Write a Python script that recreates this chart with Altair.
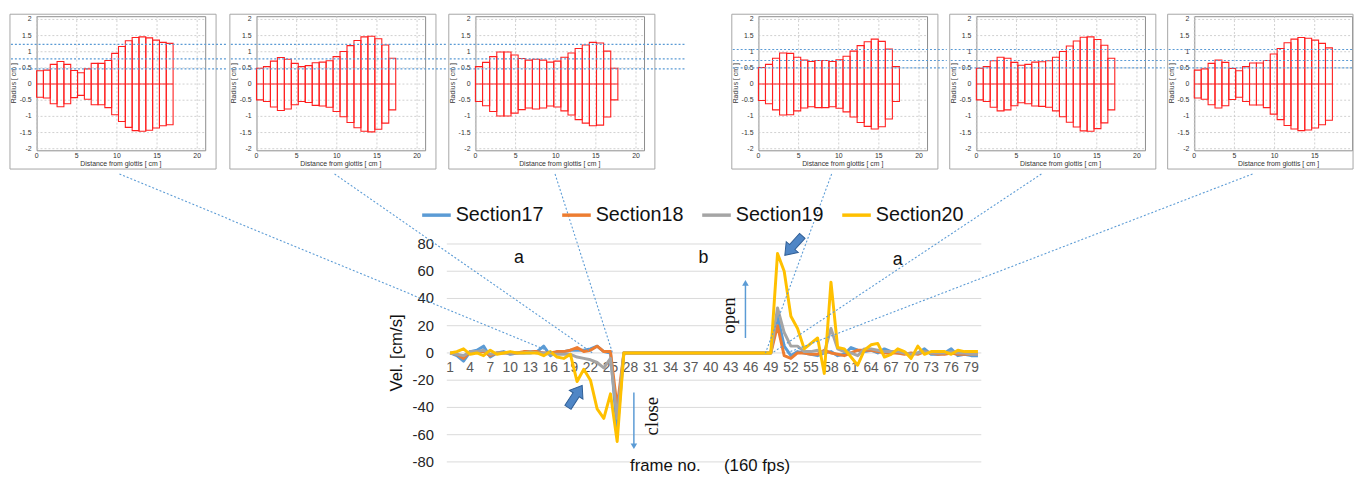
import altair as alt
import pandas as pd

FONT = "Liberation Sans"
SERIF = "Liberation Serif"

# ---------------- main chart data ----------------
frames = list(range(1, 81))
section17 = [0, -2, -6, 1, 2, 5, -3, 0, 1, -1, 0, 0, 0, 1, 5, -2, 1, 1, 2, 2,
             2, 3, 5, 1, 0, -57, 0, 0, 0, 0, 0, 0, 0, 0, 0, 0, 0, 0, 0, 0,
             0, 0, 0, 0, 0, 0, 0, 0, 0, 27, 5, -2, 1, 0, -1, -2, 0, 1, -2, -1,
             4, 2, 1, 2, 0, 3, 1, 0, 0, -1, 0, 3, -1, -1, 0, 3, -2, -1, -2, -2]
section18 = [0, -1, -4, 1, 1, 1, -2, 0, 0, 0, 0, 1, 1, 1, 0, 0, 1, 1, 2, 4,
             1, 2, 5, 1, 1, -40, 0, 0, 0, 0, 0, 0, 0, 0, 0, 0, 0, 0, 0, 0,
             0, 0, 0, 0, 0, 0, 0, 0, 0, 20, -2, -4, 0, 0, -1, -1, 2, 0, -1, -2,
             0, 2, 2, 2, 1, 0, 0, 0, -1, 0, -1, 1, 0, -1, -1, 0, -1, -1, -1, -1]
section19 = [0, -1, -2, 1, 1, 2, -1, 0, 0, 0, 0, 0, 1, 0, 0, -1, -1, -1, -1, -3,
             -4, -5, -7, -11, -4, -48, 0, 0, 0, 0, 0, 0, 0, 0, 0, 0, 0, 0, 0, 0,
             0, 0, 0, 0, 0, 0, 0, 0, 0, 33, 15, 5, 5, 1, 1, 2, 0, 18, 3, 1,
             0, -2, 3, 3, 2, 1, 1, 1, 0, -1, 0, 1, 0, 0, 0, 1, 0, 0, -1, -1]
section20 = [0, 1, 3, -1, 0, -2, 2, -1, 0, 1, 0, 0, 0, 0, -2, 1, -3, -4, -1, -21,
             -12, -20, -41, -48, -30, -65, 0, 0, 0, 0, 0, 0, 0, 0, 0, 0, 0, 0, 0, 0,
             0, 0, 0, 0, 0, 0, 0, 0, 0, 73, 60, 27, 18, 3, 7, 11, -15, 52, 4, 3,
             -3, -9, 2, 6, 7, -3, -1, 3, 1, -4, 5, -1, 1, 1, 1, -1, 2, 1, 1, 1]
series_names = ["Section17", "Section18", "Section19", "Section20"]
series_colors = ["#5B9BD5", "#ED7D31", "#A5A5A5", "#FFC000"]
x_tick_labels = [1, 4, 7, 10, 13, 16, 19, 22, 25, 28, 31, 34, 37, 40, 43, 46, 49,
                 52, 55, 58, 61, 64, 67, 70, 73, 76, 79]
y_tick_labels = [-80, -60, -40, -20, 0, 20, 40, 60, 80]
y_title = "Vel. [cm/s]"

# ---------------- inset data (tube radii, 20 sections) ----------------
inset_radii = [
    [0.41, 0.43, 0.61, 0.70, 0.61, 0.42, 0.35, 0.47, 0.64, 0.64,
     0.73, 0.95, 1.16, 1.34, 1.44, 1.46, 1.43, 1.36, 1.29, 1.26],
    [0.49, 0.54, 0.71, 0.82, 0.77, 0.64, 0.54, 0.57, 0.66, 0.68,
     0.72, 0.85, 1.01, 1.19, 1.35, 1.46, 1.48, 1.40, 1.21, 0.80],
    [0.54, 0.67, 0.85, 0.99, 0.99, 0.90, 0.79, 0.74, 0.77, 0.74,
     0.68, 0.71, 0.83, 0.96, 1.10, 1.21, 1.29, 1.27, 1.02, 0.49],
    [0.51, 0.61, 0.80, 0.96, 0.95, 0.83, 0.74, 0.70, 0.73, 0.73,
     0.70, 0.75, 0.86, 1.02, 1.19, 1.31, 1.39, 1.32, 1.08, 0.54],
    [0.49, 0.54, 0.72, 0.83, 0.80, 0.67, 0.58, 0.61, 0.68, 0.69,
     0.72, 0.83, 1.01, 1.18, 1.33, 1.45, 1.46, 1.38, 1.20, 0.80],
    [0.43, 0.47, 0.64, 0.74, 0.67, 0.48, 0.41, 0.54, 0.65, 0.65,
     0.73, 0.93, 1.10, 1.28, 1.39, 1.44, 1.42, 1.36, 1.26, 1.12],
]
inset_section_length = [0.85, 0.867, 0.887, 0.878, 0.862, 0.86]
inset_x_ticks = [0, 5, 10, 15, 20]
inset_y_ticks = [-2, -1.5, -1, -0.5, 0, 0.5, 1, 1.5, 2]
inset_x_title = "Distance from glottis [ cm ]"
inset_y_title = "Radius [ cm ]"
guide_radii_left = [1.23, 0.78, 0.47]
guide_radii_right = [1.07, 0.73, 0.50]

# ---------------- annotations (in frame / velocity units) ----------------
letter_text = ["a", "b", "a"]
letter_frame = [11.3, 38.9, 68.0]
letter_vel = [69.6, 69.6, 68.1]
rot_text = ["open", "close"]
rot_frame = [42.8, 31.2]
rot_vel = [27.5, -46.4]
thin_arrow_frame = [45.2, 28.5]
thin_arrow_from = [11, -29]
thin_arrow_to = [50, -67]
up_head = {"frame": [45.2], "vel": [51.5]}
down_head = {"frame": [28.5], "vel": [-68.5]}
block_up = {"frame": [19.7], "vel": [-31.9]}
block_down = {"frame": [52.4], "vel": [78.8]}
conn_from_frame = [-48.5, -16.3, 16.7, 58.1, 89.5, 121.1]
conn_from_vel = [131.4, 131.4, 131.4, 131.4, 131.4, 131.4]
conn_to_frame = [16.4, 22.3, 25.3, 48.2, 49.2, 51.4]
conn_to_vel = [0, 0, 0, 0, 0, 0]
x_title = "frame no.\u00a0\u00a0\u00a0\u00a0 (160 fps)"
x_title_frame = [39.9]
x_title_vel = [-82.8]

# ---------------- layout constants ----------------
INSET_W = 171
INSET_H = 136
MAIN_W = 542
MAIN_H = 221
one = pd.DataFrame({"k": [0]})
noframe = alt.ViewBackground(stroke="transparent")


def fmt(v):
    return f"{v:g}"


def make_inset(idx, width, guides, box_right=11, gap_after=10):
    radii = inset_radii[idx]
    seg = inset_section_length[idx]
    n = len(radii)
    xmax = 21 * width / INSET_W
    xsc = alt.Scale(domain=[0, xmax], nice=False, zero=False)
    ysc = alt.Scale(domain=[-2.05, 2.1], nice=False, zero=False)
    X = alt.X("x0:Q", scale=xsc, axis=None)
    Y = alt.Y("lo:Q", scale=ysc, axis=None)
    xt = [v for v in inset_x_ticks if v <= xmax]

    vgrid = alt.Chart(pd.DataFrame({"x0": xt})).mark_rule(
        color="#c4c4c4", strokeDash=[2, 2], strokeWidth=0.8).encode(
        x=X, y=alt.value(0), y2=alt.value(INSET_H))
    hgrid = alt.Chart(pd.DataFrame({"lo": inset_y_ticks})).mark_rule(
        color="#c4c4c4", strokeDash=[2, 2], strokeWidth=0.8).encode(
        y=Y, x=alt.value(0), x2=alt.value(width))
    xlab = alt.Chart(pd.DataFrame({"x0": xt, "t": [fmt(v) for v in xt]})).mark_text(
        font=FONT, fontSize=7, color="#333", baseline="top").encode(
        x=X, y=alt.value(INSET_H + 2), text="t:N")
    ylab = alt.Chart(pd.DataFrame({"lo": inset_y_ticks, "t": [fmt(v) for v in inset_y_ticks]})).mark_text(
        font=FONT, fontSize=7, color="#333", align="right", baseline="middle").encode(
        y=Y, x=alt.value(-5), text="t:N")
    xtit = alt.Chart(pd.DataFrame({"t": [inset_x_title]})).mark_text(
        font=FONT, fontSize=7, color="#333", baseline="middle").encode(
        x=alt.value(INSET_W / 2), y=alt.value(INSET_H + 13.5), text="t:N")
    ytit = alt.Chart(pd.DataFrame({"t": [inset_y_title]})).mark_text(
        font=FONT, fontSize=7, color="#333", baseline="middle", angle=270).encode(
        x=alt.value(-23), y=alt.value(INSET_H / 2), text="t:N")

    bars_df = pd.DataFrame({
        "x0": [i * seg for i in range(n)],
        "x1": [(i + 1) * seg for i in range(n)],
        "lo": [-r for r in radii],
        "hi": radii,
    })
    bars = alt.Chart(bars_df).mark_rect(fillOpacity=0, stroke="#ff1f1f", strokeWidth=1.1).encode(
        x=X, x2="x1", y=Y, y2="hi")
    box = alt.Chart(one).mark_rect(fillOpacity=0, stroke="#a6a6a6", strokeWidth=1).encode(
        x=alt.value(-27), x2=alt.value(width + box_right),
        y=alt.value(-2), y2=alt.value(INSET_H + 19))
    zero_df = pd.DataFrame({"x0": [0], "x1": [n * seg], "lo": [0]})
    zero = alt.Chart(zero_df).mark_rule(color="#ff1f1f", strokeWidth=1.1).encode(
        x=X, x2="x1", y=Y)
    gdf = pd.DataFrame({"lo": guides})
    g = alt.Chart(gdf).mark_rule(color="#5B9BD5", strokeDash=[2, 2], strokeWidth=1.2).encode(
        x=alt.value(-26), x2=alt.value(width + box_right + gap_after), y=Y)
    return alt.layer(vgrid, hgrid, xlab, ylab, xtit, ytit, bars, box, zero, g).properties(
        width=width, height=INSET_H)


i1 = make_inset(0, INSET_W, guide_radii_left, gap_after=11)
i2 = make_inset(1, INSET_W, guide_radii_left, gap_after=10)
i3 = make_inset(2, INSET_W, guide_radii_left, gap_after=31)
i4 = make_inset(3, INSET_W, guide_radii_right, gap_after=9)
i5 = make_inset(4, INSET_W, guide_radii_right, gap_after=9)
i6 = make_inset(5, 160, guide_radii_right, box_right=1, gap_after=1)

gap = alt.Chart(one).mark_point(opacity=0, size=1).properties(
    width=42, height=INSET_H, view=noframe)

top_row = alt.hconcat(i1, i2, i3, gap, i4, i5, i6, spacing=0)

# ---------------- main chart ----------------
main_df = pd.DataFrame({
    "frame": frames * 4,
    "vel": section17 + section18 + section19 + section20,
    "series": [n for n in series_names for _ in frames],
})
xsc = alt.Scale(domain=[0.5, 80.5], nice=False, zero=False)
ysc = alt.Scale(domain=[-80, 80], nice=False, zero=False)
XN = alt.X("frame:Q", scale=xsc, axis=None)
YN = alt.Y("vel:Q", scale=ysc, axis=None)

ygrid = alt.Chart(pd.DataFrame({"vel": y_tick_labels})).mark_rule(
    color="#d9d9d9", strokeWidth=1).encode(y=YN, x=alt.value(0), x2=alt.value(MAIN_W))
ylab = alt.Chart(pd.DataFrame({"vel": y_tick_labels, "t": [fmt(v) for v in y_tick_labels]})).mark_text(
    font=FONT, fontSize=15, color="#262626", align="right", baseline="middle").encode(
    y=YN, x=alt.value(-13), text="t:N")
xlab = alt.Chart(pd.DataFrame({"frame": x_tick_labels, "t": [fmt(v) for v in x_tick_labels]})).mark_text(
    font=FONT, fontSize=14, color="#595959", baseline="middle").encode(
    x=XN, y=alt.value(MAIN_H / 2 + 15.5), text="t:N")
ytit = alt.Chart(pd.DataFrame({"t": [y_title]})).mark_text(
    font=FONT, fontSize=17, color="#111", angle=270, baseline="middle").encode(
    x=alt.value(-50), y=alt.value(MAIN_H / 2), text="t:N")

lines = alt.Chart(main_df).mark_line(strokeWidth=3, strokeJoin="round").encode(
    x=XN, y=YN,
    color=alt.Color("series:N", scale=alt.Scale(domain=series_names, range=series_colors),
                    legend=alt.Legend(orient="none", legendX=-27, legendY=-46,
                                      direction="horizontal", title=None,
                                      symbolType="stroke", symbolSize=841,
                                      symbolStrokeWidth=3.5, labelFontSize=20,
                                      labelFont=FONT, labelColor="#111",
                                      columnPadding=12, labelOffset=3, padding=0,
                                      labelLimit=300)),
)

conn_df = pd.DataFrame({"frame": conn_from_frame, "vel": conn_from_vel,
                        "frame2": conn_to_frame, "vel2": conn_to_vel})
connectors = alt.Chart(conn_df).mark_rule(color="#5B9BD5", strokeDash=[2, 2], strokeWidth=1.1).encode(
    x=XN, x2="frame2", y=YN, y2="vel2")

letters_df = pd.DataFrame({"t": letter_text, "frame": letter_frame, "vel": letter_vel})
letters = alt.Chart(letters_df).mark_text(font=FONT, fontSize=18, color="#111").encode(
    x=XN, y=YN, text="t:N")

rot_df = pd.DataFrame({"t": rot_text, "frame": rot_frame, "vel": rot_vel})
rot = alt.Chart(rot_df).mark_text(font=SERIF, fontSize=19, color="#111", angle=270).encode(
    x=XN, y=YN, text="t:N")

thin_df = pd.DataFrame({"frame": thin_arrow_frame, "vel": thin_arrow_from, "vel2": thin_arrow_to})
thin = alt.Chart(thin_df).mark_rule(color="#5B9BD5", strokeWidth=1.5).encode(x=XN, y=YN, y2="vel2")
head_up = alt.Chart(pd.DataFrame(up_head)).mark_point(
    shape="triangle-up", filled=True, color="#5B9BD5", size=45, opacity=1).encode(x=XN, y=YN)
head_down = alt.Chart(pd.DataFrame(down_head)).mark_point(
    shape="triangle-down", filled=True, color="#5B9BD5", size=45, opacity=1).encode(x=XN, y=YN)

ARROW = "M -1 -0.28 L 0.15 -0.28 L 0.15 -0.62 L 1 0 L 0.15 0.62 L 0.15 0.28 L -1 0.28 Z"
blk_style = dict(shape=ARROW, filled=True, fill="#4F86C6", stroke="#2F5E96",
                 strokeWidth=1, size=700, opacity=1)
blk1 = alt.Chart(pd.DataFrame(block_up)).mark_point(angle=303, **blk_style).encode(x=XN, y=YN)
blk2 = alt.Chart(pd.DataFrame(block_down)).mark_point(angle=132, **blk_style).encode(x=XN, y=YN)

xt_df = pd.DataFrame({"t": [x_title], "frame": x_title_frame, "vel": x_title_vel})
xtitle = alt.Chart(xt_df).mark_text(font=FONT, fontSize=17, color="#111").encode(
    x=XN, y=YN, text="t:N")

main = alt.layer(ygrid, ylab, xlab, ytit, lines, connectors, letters, rot, thin, head_up,
                 head_down, blk1, blk2, xtitle).properties(
    width=MAIN_W, height=MAIN_H, view=noframe)

spacer = alt.Chart(one).mark_point(opacity=0, size=1).properties(
    width=1, height=MAIN_H, view=noframe)
bottom_row = alt.hconcat(spacer, main, spacing=80).resolve_scale(
    color="independent").resolve_legend(color="independent")

chart = alt.vconcat(top_row, bottom_row, spacing=2).resolve_scale(
    color="independent").resolve_legend(color="independent").properties(
    padding={"left": 1, "top": 2, "right": 0, "bottom": 0},
    background="white").configure(font=FONT).configure_view(stroke="#8c8c8c", strokeWidth=1)

chart.save("out.html", embed_options={"renderer": "svg", "actions": False})
